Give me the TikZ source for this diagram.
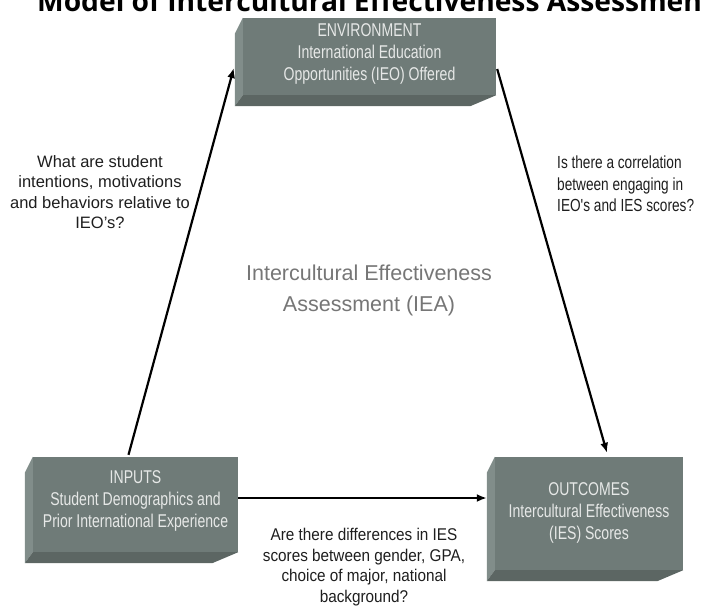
\documentclass[tikz,border=0pt]{standalone}
\usepackage{xcolor}
\usepackage{fontspec}
\setmainfont{Liberation Sans}
\newfontfamily\slabfont{Liberation Sans}[FakeStretch=0.76]
\newfontfamily\narrowfont{Liberation Sans}[FakeStretch=0.78]
\newfontfamily\askfont{Liberation Sans}[FakeStretch=0.9]
\newfontfamily\titlefont{Open Sans}
\usepackage{tikz}
\usetikzlibrary{arrows.meta, positioning, calc}
\definecolor{slabfront}{HTML}{6F7B78}
\definecolor{slabside}{HTML}{818D8A}
\definecolor{slabbase}{HTML}{5C6663}
\definecolor{slabtext}{HTML}{E6E8E7}
\definecolor{captiongray}{HTML}{767676}
\definecolor{questionink}{HTML}{1E1E1E}

\tikzset{
  slab/.style={fill=slabfront, inner sep=0pt},
  slablabel/.style={text=slabtext, align=center, inner sep=0pt,
    font=\slabfont\fontsize{18.5}{22}\selectfont},
  flow/.style={line width=2.2pt, -{Latex[length=10pt, width=8pt]}},
  question/.style={text=questionink, inner sep=0pt}
}

% side and bottom faces of a slab
\newcommand{\slabfaces}[1]{%
  \fill[slabside] (#1.north west) -- ++(-8,16) -- ($(#1.south west)+(-8,11)$) -- (#1.south west) -- cycle;
  \fill[slabbase] (#1.south west) -- (#1.south east) -- ++(-26,11) -- ($(#1.south west)+(-8,11)$) -- cycle;
}

\begin{document}
\begin{tikzpicture}[x=1pt, y=-1pt]
  \useasboundingbox (0,0) rectangle (701,606);

  % title, cut off by the page edge
  \node[anchor=base west, inner sep=0pt, font=\titlefont\bfseries\fontsize{28.2}{30}\selectfont] (title) at (37,11) {Model of Intercultural Effectiveness Assessment};

  % slabs
  \node[slab, minimum width=253pt, minimum height=77pt] (env) at (369.5,56.5) {};
  \node[slab, minimum width=205pt, minimum height=95pt] (inputs) at (135.5,504.5) {};
  \node[slab, minimum width=188pt, minimum height=113pt] (outcomes) at (589,513.5) {};
  \slabfaces{env}
  \slabfaces{inputs}
  \slabfaces{outcomes}
  \node[slablabel] (envtext) at ([yshift=3pt]env.center) {ENVIRONMENT\\International Education\\Opportunities (IEO) Offered};
  \node[slablabel] (inputstext) at ([yshift=4pt]inputs.center) {INPUTS\\Student Demographics and\\Prior International Experience};
  \node[slablabel] (outcomestext) at ([yshift=1pt]outcomes.center) {OUTCOMES\\Intercultural Effectiveness\\(IES) Scores};

  % centre caption
  \node[text=captiongray, align=center, font=\fontsize{21.5}{31}\selectfont] (iea) at (369,290) {Intercultural Effectiveness\\Assessment (IEA)};

  % questions
  \node[question, align=center, font=\fontsize{16.5}{20.5}\selectfont] (askleft) at (100,192) {What are student\\intentions, motivations\\and behaviors relative to\\IEO's?};
  \node[question, align=left, anchor=north west, font=\narrowfont\fontsize{17.5}{21.5}\selectfont] (askright) at (557,156) {Is there a correlation\\between engaging in\\IEO's and IES scores?};
  \node[question, align=center, anchor=north, font=\askfont\fontsize{17}{20.5}\selectfont] (askbottom) at (364,528) {Are there differences in IES\\scores between gender, GPA,\\choice of major, national\\background?};

  % arrows
  \draw[flow] ([xshift=-7pt, yshift=2pt]inputs.north) -- ([xshift=-9pt, yshift=-11.5pt]env.west);
  \draw[flow] ([xshift=1pt, yshift=-12.5pt]env.east) -- ([xshift=18pt, yshift=4pt]outcomes.north);
  \draw[flow] ([yshift=6.5pt]inputs.east) -- ([yshift=6.5pt, xshift=-8pt]inputs.east -| outcomes.west);
\end{tikzpicture}
\end{document}
